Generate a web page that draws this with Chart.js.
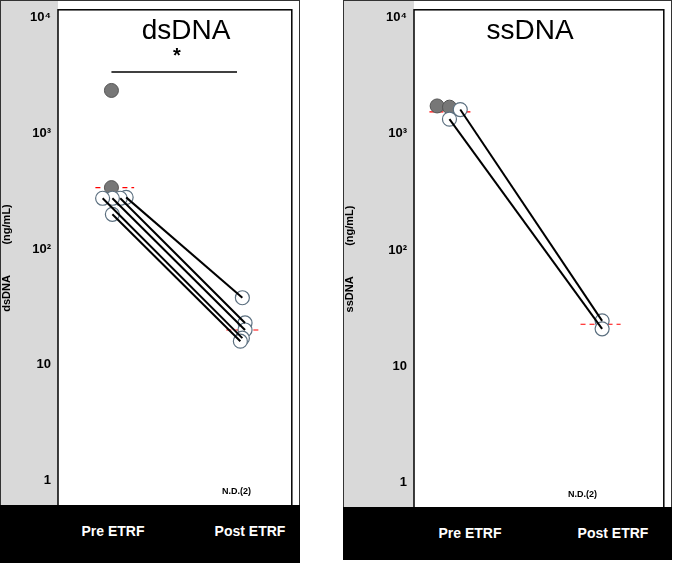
<!DOCTYPE html>
<html><head><meta charset="utf-8">
<script src="https://cdn.jsdelivr.net/npm/chart.js@4"></script>
<style>
body{margin:0;background:#fff;font-family:"Liberation Sans",Arial,sans-serif;}
.box{position:absolute;}
.band{position:absolute;background:#000;color:#fff;font-weight:bold;font-size:14px;}
.band span{position:absolute;top:18px;transform:translateX(-50%);white-space:nowrap;}
.ttl{position:absolute;font-size:28px;transform:translateX(-50%);}
.nd{position:absolute;font-size:9px;font-weight:bold;}
</style></head><body>
<div class="box" style="left:0;top:0;width:300px;height:516px"><canvas id="c1"></canvas></div>
<div class="box" style="left:343px;top:0;width:329px;height:518px"><canvas id="c2"></canvas></div>
<div class="band" style="left:0;top:505px;width:300px;height:58px"><span style="left:113px">Pre ETRF</span><span style="left:250px">Post ETRF</span></div>
<div class="band" style="left:343px;top:507px;width:329px;height:53px"><span style="left:127px">Pre ETRF</span><span style="left:270px">Post ETRF</span></div>
<div class="ttl" style="left:186px;top:14px">dsDNA</div>
<div class="ttl" style="left:530px;top:14px">ssDNA</div>
<div class="ttl" style="left:177px;top:44px;font-size:20px;font-weight:bold">*</div>
<div class="nd" style="left:222px;top:486px">N.D.(2)</div>
<div class="nd" style="left:568px;top:489px">N.D.(2)</div>
<script>
const decades = [1, 10, 100, 1000, 10000];
const decadeLabels = ['1', '10', '10²', '10³', '10⁴'];

// dsDNA (pre[i] pairs with post[i])
const dsPreGray = [[0, 2350], [0, 340]];
const dsPre = [[0.11, 280], [0.066, 275], [0.007, 275], [-0.066, 275], [0.007, 200]];
const dsPost = [[0.98, 38], [1.0, 23], [1.0, 20], [0.98, 17], [0.965, 16]];
const dsMedian = [340, 20];
const dsBracket = [[0, 3400], [0.94, 3400]];

// ssDNA
const ssPreGray = [[-0.07, 1740], [0.01, 1700]];
const ssPre = [[0.08, 1620], [0.01, 1340]];
const ssPost = [[1.0, 24.6], [1.0, 21]];
const ssMedian = [1550, 23];

const frame = {
  id: 'frame',
  beforeDraw(c) {
    const a = c.chartArea, x = c.ctx;
    x.save();
    x.fillStyle = '#d9d9d9'; x.fillRect(0, 0, a.left, c.height);
    x.fillStyle = '#fff'; x.fillRect(a.left, a.top, a.right - a.left, a.bottom - a.top);
    x.restore();
  },
  afterDraw(c) {
    const a = c.chartArea, x = c.ctx;
    x.save();
    x.strokeStyle = '#333'; x.lineWidth = 1;
    x.strokeRect(0.5, 0.5, c.width - 1, c.height - 1);
    x.strokeStyle = '#000'; x.lineWidth = 1.5;
    x.strokeRect(a.left, a.top, a.right - a.left, a.bottom - a.top);
    x.restore();
  }
};

function pts(arr) { return arr.map(p => ({x: p[0], y: p[1]})); }

function build(id, opts) {
  const ds = [];
  opts.pre.forEach((p, i) => {
    const q = opts.post[i];
    ds.push({data: [{x: p[0], y: p[1]}, {x: q[0], y: q[1]}], showLine: true, borderColor: '#000', borderWidth: 2, pointRadius: 0});
  });
  if (opts.bracket) ds.push({data: pts(opts.bracket), showLine: true, borderColor: '#000', borderWidth: 1.5, pointRadius: 0});
  ds.push({data: pts(opts.pre).concat(pts(opts.post)), pointRadius: 7, pointBackgroundColor: '#fff', pointBorderColor: '#5c7080', pointBorderWidth: 1.2});
  ds.push({data: pts(opts.gray), pointRadius: 7, pointBackgroundColor: '#777', pointBorderColor: '#555', pointBorderWidth: 1});
  ds.push({data: [{x: -0.12, y: opts.median[0]}, {x: 0.17, y: opts.median[0]}], showLine: true, borderColor: '#f00', borderDash: [5, 4], borderWidth: 1.2, pointRadius: 0});
  ds.push({data: [{x: 0.86, y: opts.median[1]}, {x: 1.12, y: opts.median[1]}], showLine: true, borderColor: '#f00', borderDash: [5, 4], borderWidth: 1.2, pointRadius: 0});
  new Chart(document.getElementById(id), {
    type: 'scatter',
    data: {datasets: ds},
    options: {
      responsive: true, maintainAspectRatio: false, animation: false,
      layout: {padding: {top: 4, right: 2, bottom: 0}},
      plugins: {legend: {display: false}, tooltip: {enabled: false}},
      scales: {
        x: {type: 'linear', display: false, min: opts.xmin, max: opts.xmax},
        y: {
          type: 'logarithmic', min: 0.62, max: 11700,
          afterBuildTicks: s => { s.ticks = decades.map(v => ({value: v})); },
          afterFit: s => { s.width = opts.axisW; },
          grid: {display: false, drawTicks: true, tickLength: 5, color: '#000'},
          border: {display: false},
          ticks: {color: '#000', font: {size: 13, weight: 'bold'}, padding: 2,
            callback: v => decadeLabels[decades.indexOf(v)]},
          title: {display: true, text: opts.ytitle, color: '#000', font: {size: 11, weight: 'bold'}, padding: 0}
        }
      }
    },
    plugins: [frame]
  });
}

build('c1', {pre: dsPre, post: dsPost, gray: dsPreGray, median: dsMedian, bracket: dsBracket,
  xmin: -0.4, xmax: 1.35, axisW: 58, ytitle: 'dsDNA          (ng/mL)'});
build('c2', {pre: ssPre, post: ssPost, gray: ssPreGray, median: ssMedian,
  xmin: -0.22, xmax: 1.4, axisW: 71, ytitle: 'ssDNA          (ng/mL)'});
</script></body></html>
